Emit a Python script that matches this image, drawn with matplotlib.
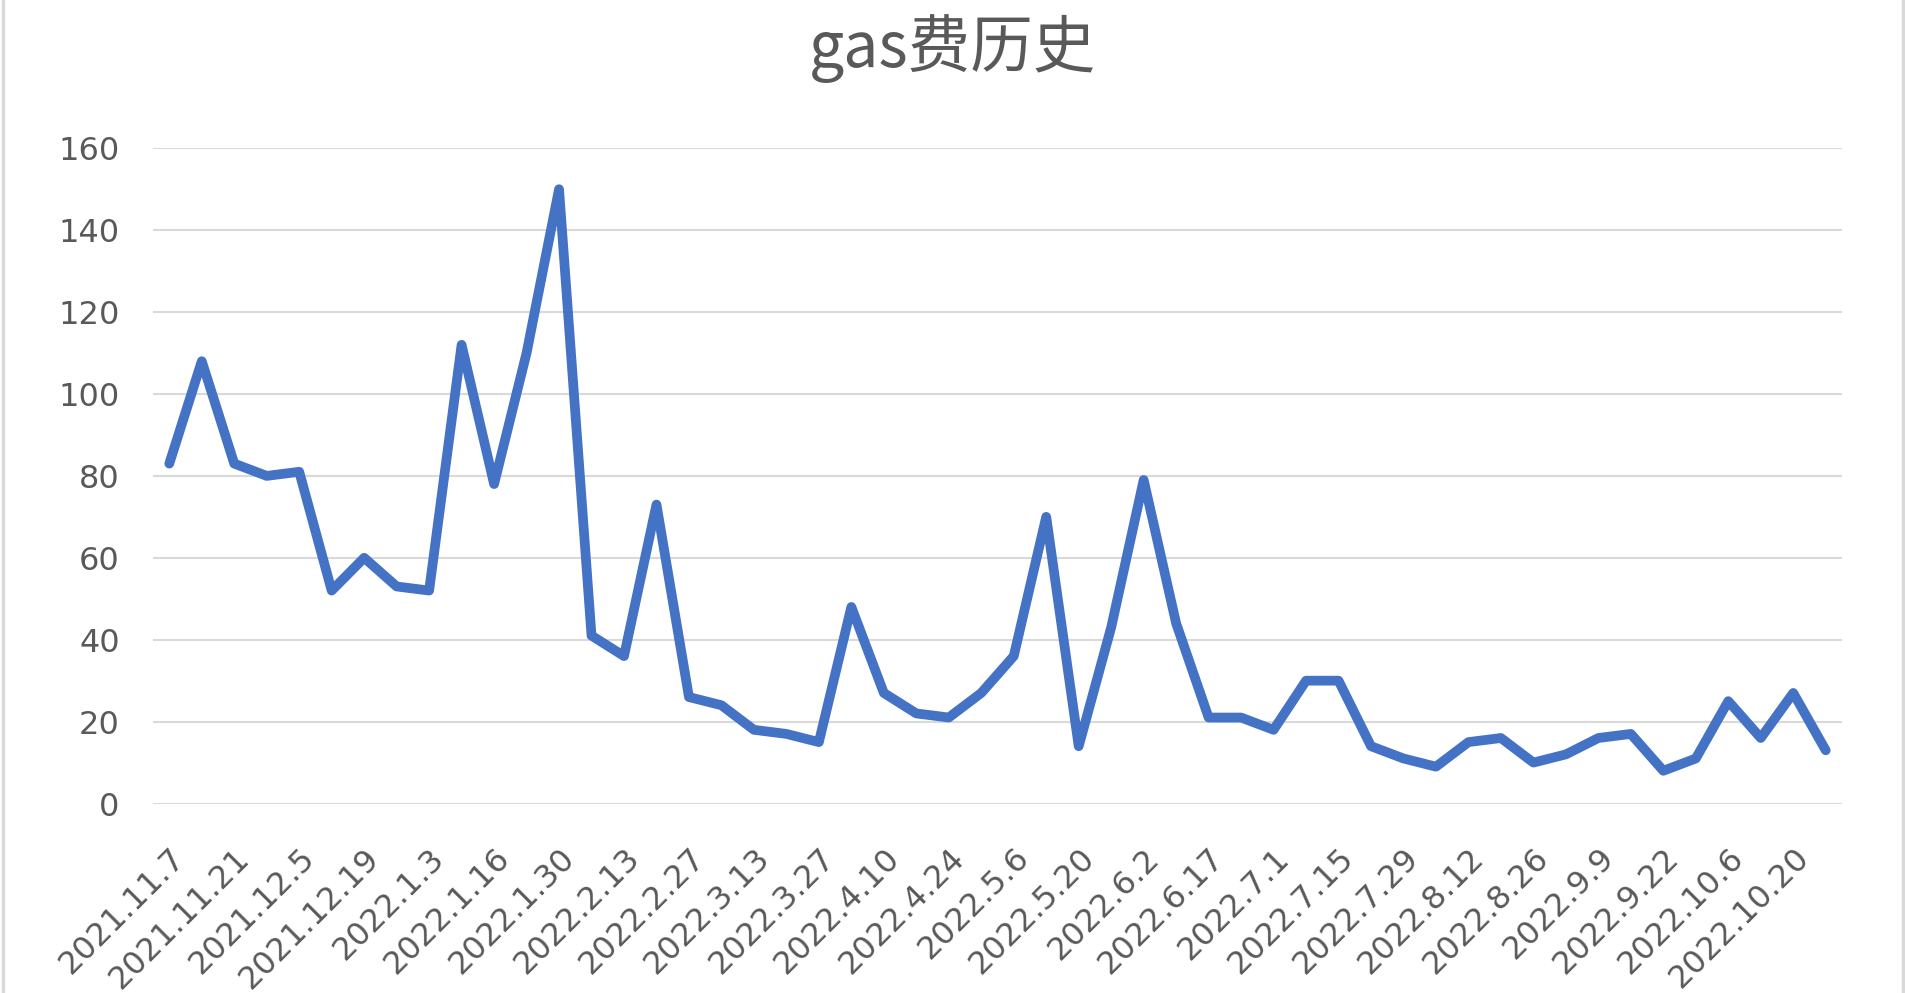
import numpy as np
import matplotlib.pyplot as plt
from matplotlib.lines import Line2D

plt.rcParams['font.family'] = ['Noto Sans CJK SC', 'DejaVu Sans']

# weekly dates (every other one is shown as a tick label)
dates = ['2021.11.7', '2021.11.14', '2021.11.21', '2021.11.28', '2021.12.5', '2021.12.12',
         '2021.12.19', '2021.12.26', '2022.1.3', '2022.1.9', '2022.1.16', '2022.1.23',
         '2022.1.30', '2022.2.6', '2022.2.13', '2022.2.20', '2022.2.27', '2022.3.6',
         '2022.3.13', '2022.3.20', '2022.3.27', '2022.4.3', '2022.4.10', '2022.4.17',
         '2022.4.24', '2022.4.30', '2022.5.6', '2022.5.13', '2022.5.20', '2022.5.27',
         '2022.6.2', '2022.6.10', '2022.6.17', '2022.6.24', '2022.7.1', '2022.7.8',
         '2022.7.15', '2022.7.22', '2022.7.29', '2022.8.5', '2022.8.12', '2022.8.19',
         '2022.8.26', '2022.9.2', '2022.9.9', '2022.9.16', '2022.9.22', '2022.9.29',
         '2022.10.6', '2022.10.13', '2022.10.20', '2022.10.27']
gas = [83, 108, 83, 80, 81, 52, 60, 53, 52, 112, 78, 110, 150, 41, 36, 73, 26, 24,
       18, 17, 15, 48, 27, 22, 21, 27, 36, 70, 14, 43, 79, 44, 21, 21, 18, 30, 30, 14,
       11, 9, 15, 16, 10, 12, 16, 17, 8, 11, 25, 16, 27, 13]

fig = plt.figure(figsize=(19.06, 9.93), dpi=100)
ax = fig.add_axes([0.0803, 0.1908, 0.8861, 0.6599])

x = np.arange(len(gas))
ax.plot(x, gas, color='#4472C4', linewidth=7, solid_capstyle='round',
        solid_joinstyle='round', zorder=3)

ax.set_xlim(-0.5, len(gas) - 0.5)
ax.set_ylim(0, 160)
ax.set_yticks(np.arange(0, 161, 20))
ax.grid(axis='y', color='#D9D9D9', linewidth=1.5, zorder=0)
for s in ax.spines.values():
    s.set_visible(False)

ax.set_xticks(x[::2])
ax.set_xticklabels(dates[::2], rotation=45, ha='right', va='top', rotation_mode='anchor',
                   family='DejaVu Sans', fontsize=23)
for t in ax.get_yticklabels():
    t.set_family('DejaVu Sans')
    t.set_fontsize(23)
ax.tick_params(axis='x', length=0, pad=28, colors='#595959')
ax.tick_params(axis='y', length=0, pad=24, colors='#595959')

fig.text(0.5, 0.951, 'gas费历史', ha='center', va='center', fontsize=45,
         color='#595959', fontweight='light')

# light grey frame at the left and right edges
for xf in (0.0015, 0.9985):
    fig.add_artist(Line2D([xf, xf], [0, 1], color='#D9D9D9', linewidth=2.5,
                          transform=fig.transFigure))

fig.savefig('out.png', dpi=100, facecolor='white')
